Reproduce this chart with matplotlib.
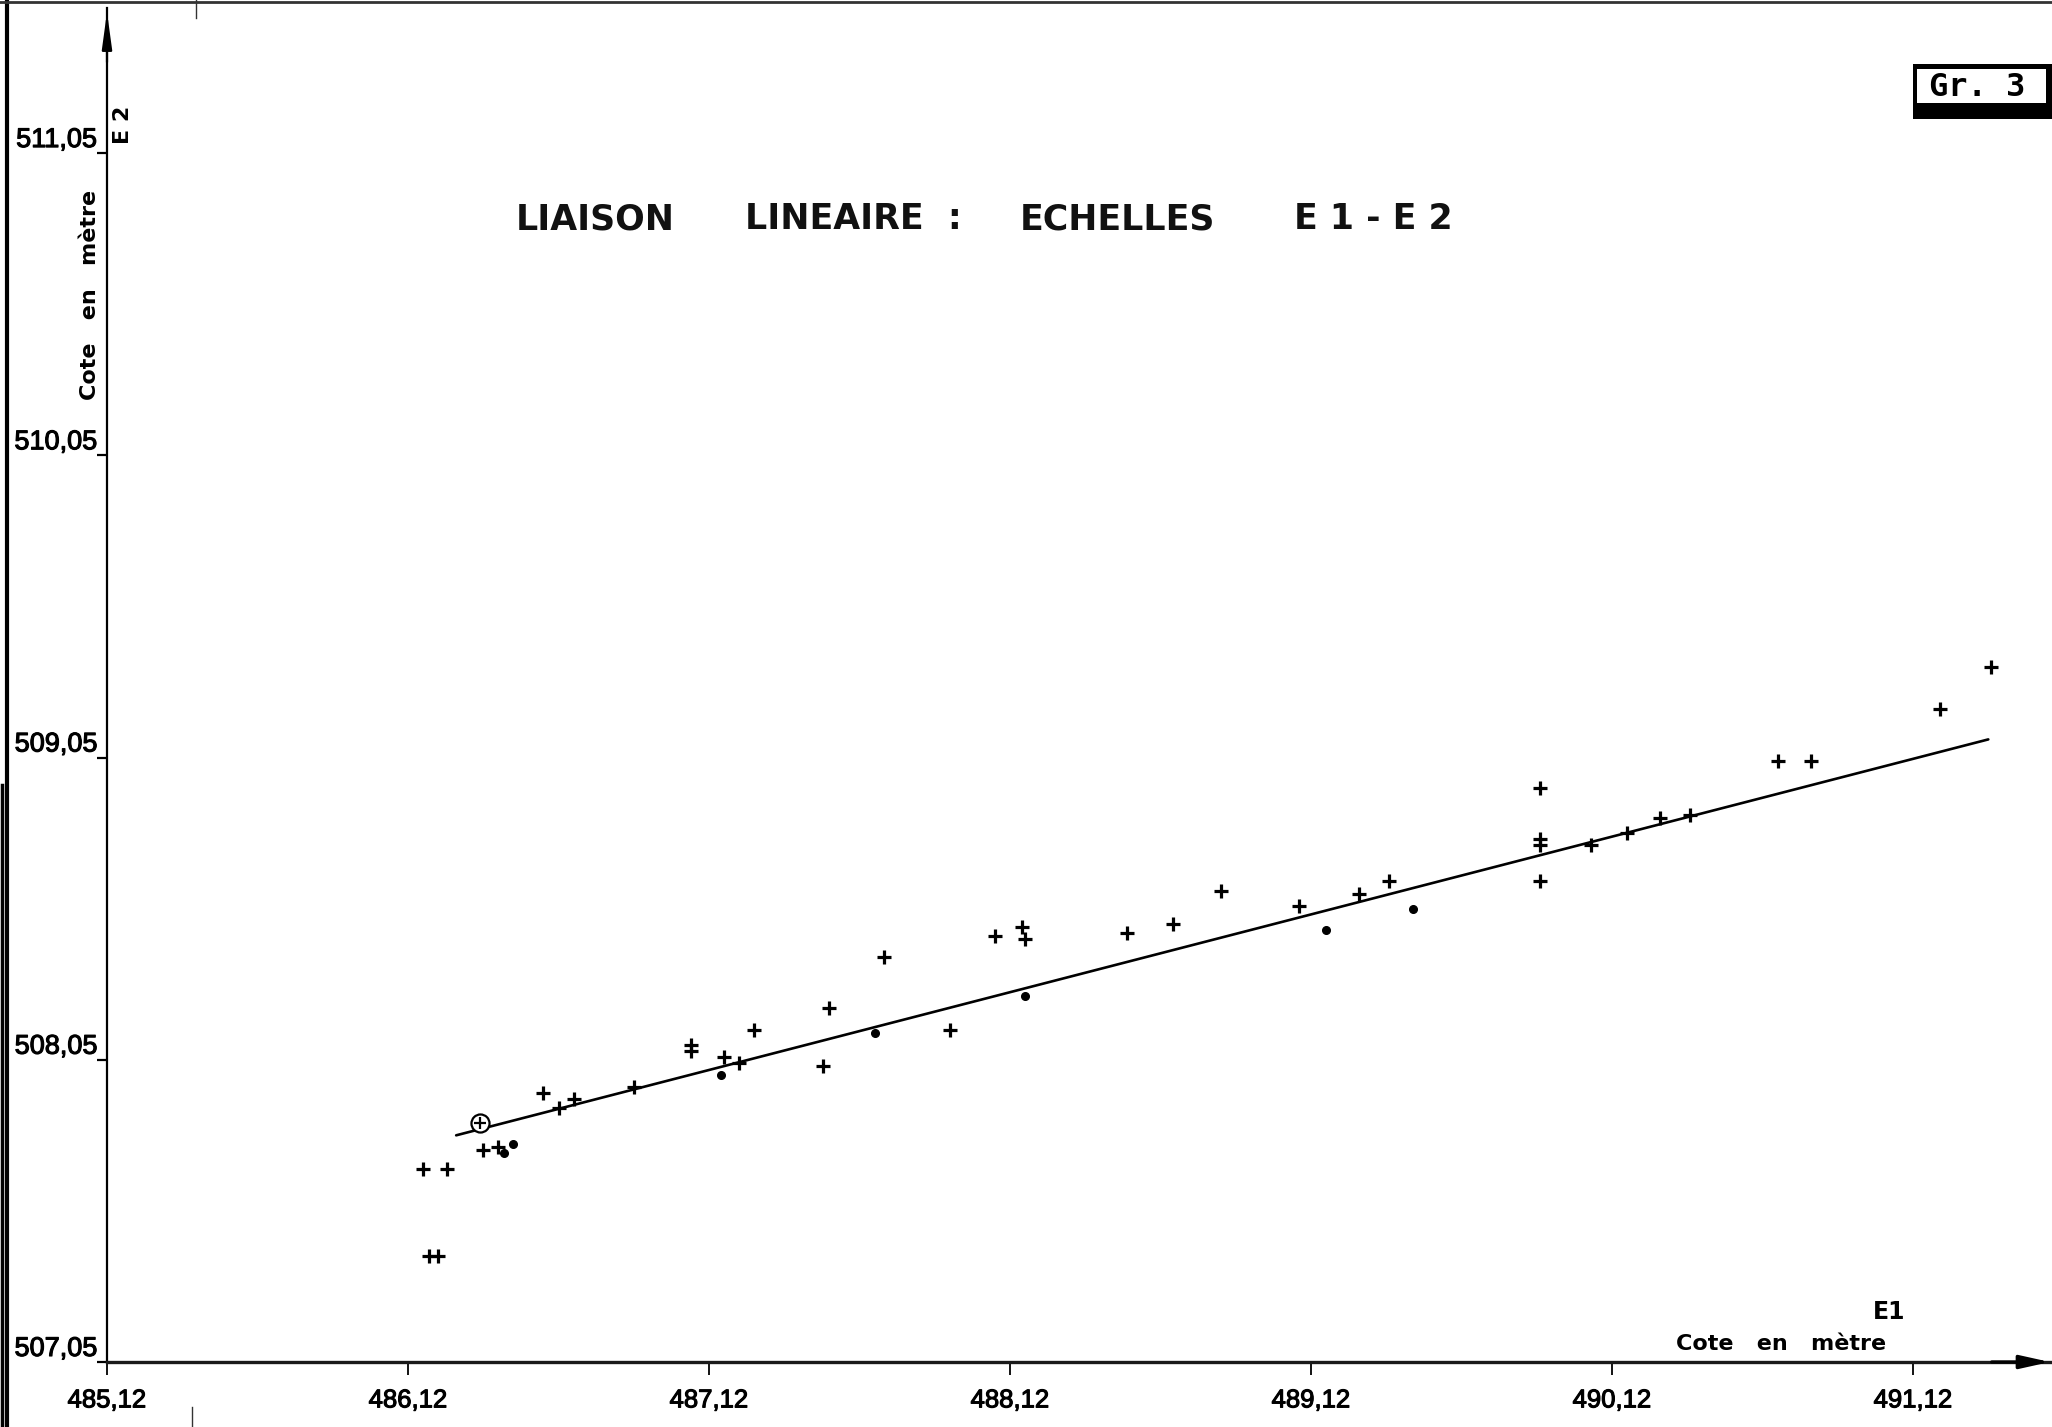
import matplotlib
matplotlib.use("Agg")
import matplotlib.pyplot as plt
import matplotlib.patheffects as pe
from matplotlib.patches import Rectangle
from matplotlib.lines import Line2D

# ---------------- data ----------------
plus_x = [486.17, 486.25, 486.19, 486.22, 486.37, 486.42, 486.57, 486.62, 486.67, 486.87,
          487.06, 487.06, 487.17, 487.22, 487.27, 487.50, 487.52, 487.70, 487.92, 488.07,
          488.16, 488.17, 488.51, 488.66, 488.82, 489.08, 489.28, 489.38, 489.88, 489.88,
          489.88, 489.88, 490.05, 490.17, 490.28, 490.38, 490.67, 490.78, 491.21, 491.38]
plus_y = [507.69, 507.69, 507.40, 507.40, 507.75, 507.76, 507.94, 507.89, 507.92, 507.96,
          508.10, 508.08, 508.06, 508.04, 508.15, 508.03, 508.22, 508.39, 508.15, 508.46,
          508.49, 508.45, 508.47, 508.50, 508.61, 508.56, 508.60, 508.64, 508.95, 508.78,
          508.76, 508.64, 508.76, 508.80, 508.85, 508.86, 509.04, 509.04, 509.21, 509.35]
dot_x = [486.44, 486.47, 487.16, 487.67, 488.17, 489.17, 489.46]
dot_y = [507.74, 507.77, 508.00, 508.14, 508.26, 508.48, 508.55]
circ_x = [486.36]
circ_y = [507.84]
line_x = [486.28, 491.37]
line_y = [507.80, 509.11]

xticks = [485.12, 486.12, 487.12, 488.12, 489.12, 490.12, 491.12]
xtick_labels = ["485,12", "486,12", "487,12", "488,12", "489,12", "490,12", "491,12"]
yticks = [507.05, 508.05, 509.05, 510.05, 511.05]
ytick_labels = ["507,05", "508,05", "509,05", "510,05", "511,05"]

title_words = ["LIAISON", "LINEAIRE  :", "ECHELLES", "E 1 - E 2"]
title_x_px = [516, 745, 1020, 1294]

# ---------------- figure ----------------
W, H = 2052, 1427
fig = plt.figure(figsize=(W / 100, H / 100), dpi=100)
fig.patch.set_facecolor("white")

ax = fig.add_axes([107 / W, (H - 1362) / H, (2050 - 107) / W, (1362 - 8) / H])
ax.set_xlim(485.12, 491.575)
ax.set_ylim(507.05, 511.53)
ax.set_facecolor("none")

for s in ["top", "right"]:
    ax.spines[s].set_visible(False)
ax.spines["left"].set_linewidth(1.6)
ax.spines["bottom"].set_linewidth(2.4)
ax.spines["bottom"].set_color("#1a1a1a")

thick = [pe.withStroke(linewidth=0.8, foreground="k")]
tick_font = ["Liberation Sans", "DejaVu Sans"]

ax.set_xticks(xticks)
ax.set_xticklabels(xtick_labels, fontsize=18.5, family=tick_font)
ax.set_yticks(yticks)
ax.set_yticklabels(ytick_labels, fontsize=19.5, family=tick_font)
ax.tick_params(axis="x", direction="out", length=9, width=1.3, pad=10)
ax.tick_params(axis="y", direction="out", length=7, width=1.6, pad=0)
for lab in ax.get_yticklabels():
    lab.set_verticalalignment("bottom")
    lab.set_path_effects(thick)
for lab in ax.get_xticklabels():
    lab.set_path_effects(thick)

# arrows at the axis ends
ax.annotate("", xy=(0, 0.997), xytext=(0, 0.96), xycoords="axes fraction",
            arrowprops=dict(arrowstyle="-|>,head_length=2.2,head_width=0.3",
                            color="k", lw=1.6, shrinkA=0, shrinkB=0))
ax.annotate("", xy=(1.0, 0), xytext=(0.97, 0), xycoords="axes fraction",
            arrowprops=dict(arrowstyle="-|>,head_length=1.8,head_width=0.4",
                            color="k", lw=2.4, shrinkA=0, shrinkB=0))

# regression line and points
ax.plot(line_x, line_y, color="k", lw=1.9, solid_capstyle="round", zorder=2)
ax.plot(plus_x, plus_y, linestyle="none", marker="+", markersize=10,
        markeredgewidth=2.3, color="k", zorder=3)
ax.plot(dot_x, dot_y, linestyle="none", marker="o", markersize=5.5,
        color="k", zorder=3)
ax.plot(circ_x, circ_y, linestyle="none", marker="o", markersize=13,
        markerfacecolor="white", markeredgecolor="k", markeredgewidth=1.6, zorder=3)
ax.plot(circ_x, circ_y, linestyle="none", marker="+", markersize=9,
        markeredgewidth=1.6, color="k", zorder=4)

# title
for w, xp in zip(title_words, title_x_px):
    fig.text(xp / W, 1 - 219 / H, w, fontsize=25, fontweight="bold", ha="left",
             va="center", family="DejaVu Sans", color="#111111")

# axis labels
fig.text(90 / W, 1 - 295 / H, "Cote   en   mètre", rotation=90, fontsize=16,
         fontweight="bold", ha="center", va="center")
fig.text(123 / W, 1 - 125 / H, "E 2", rotation=90, fontsize=16,
         fontweight="bold", ha="center", va="center")
fig.text(1886 / W, 1 - 1344 / H, "Cote   en   mètre", fontsize=16,
         fontweight="bold", ha="right", va="center")
fig.text(1889 / W, 1 - 1312 / H, "E1", fontsize=17,
         fontweight="bold", ha="center", va="center")

# "Gr. 3" box with shadow
fig.patches.append(Rectangle((1913 / W, 1 - 119 / H), (2052 - 1913) / W, (119 - 64) / H,
                             transform=fig.transFigure, facecolor="k", edgecolor="none"))
fig.patches.append(Rectangle((1917 / W, 1 - 103 / H), (2046 - 1917) / W, (103 - 69) / H,
                             transform=fig.transFigure, facecolor="white", edgecolor="none"))
fig.text(1977 / W, 1 - 87 / H, "Gr. 3", fontsize=23, fontweight="bold",
         family="DejaVu Sans Mono", ha="center", va="center")

# scan border marks
fig.add_artist(Line2D([7 / W, 7 / W], [0, 1], transform=fig.transFigure, color="k", lw=3))
fig.add_artist(Line2D([1.5 / W, 1.5 / W], [0, 0.45], transform=fig.transFigure, color="k", lw=2.5))
fig.add_artist(Line2D([0, 1], [1 - 1.5 / H, 1 - 1.5 / H], transform=fig.transFigure,
                      color="#333333", lw=2))
fig.add_artist(Line2D([196 / W, 196 / W], [1, 1 - 18 / H], transform=fig.transFigure,
                      color="#333333", lw=1))
fig.add_artist(Line2D([192 / W, 192 / W], [0, 20 / H], transform=fig.transFigure,
                      color="#333333", lw=1))

fig.savefig("out.png", dpi=100, facecolor="white")
